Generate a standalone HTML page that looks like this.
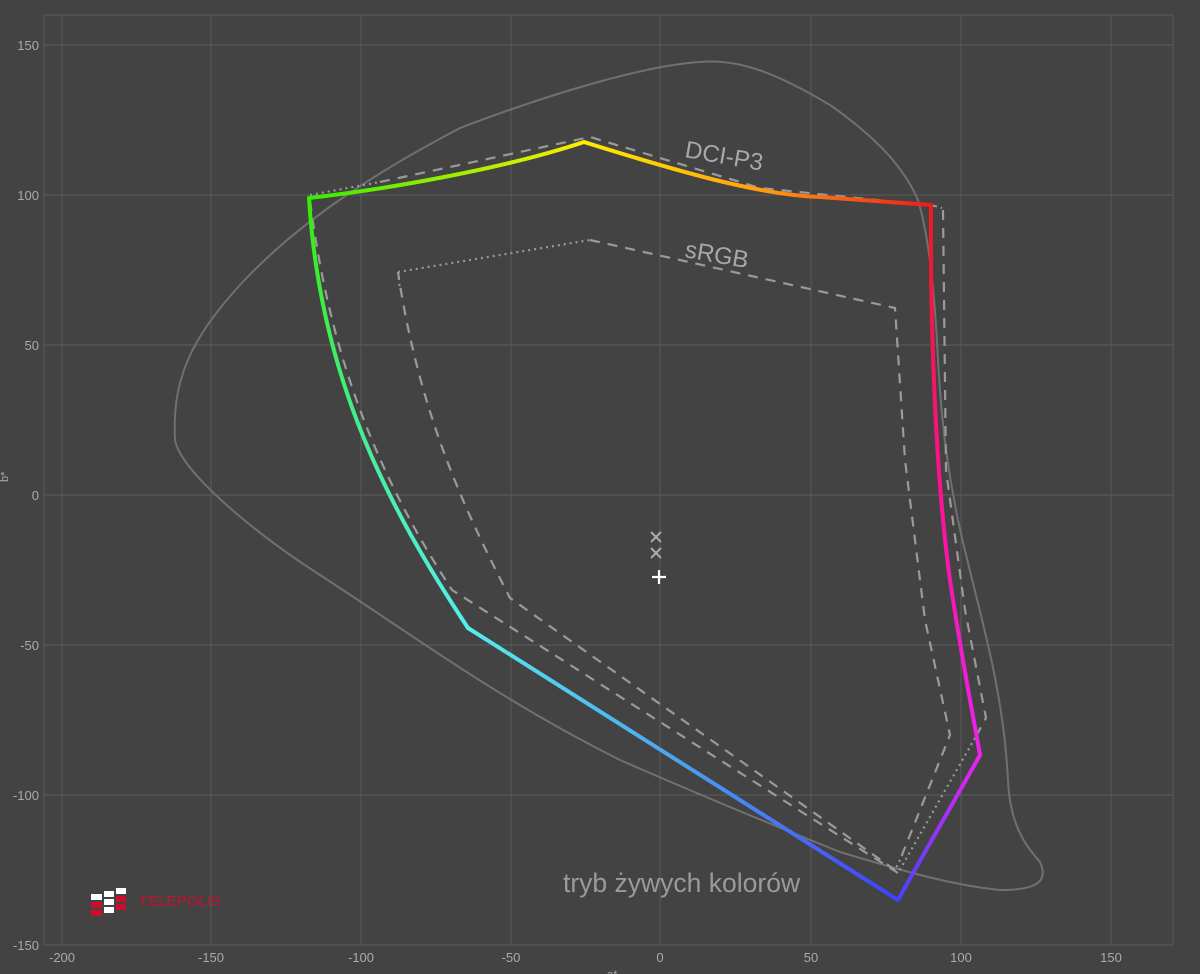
<!DOCTYPE html>
<html><head><meta charset="utf-8"><style>
html,body{margin:0;padding:0;background:#434343;}
svg{display:block;font-family:"Liberation Sans",sans-serif;}
</style></head><body>
<svg width="1200" height="974" viewBox="0 0 1200 974">
<defs>
<linearGradient id="g1" gradientUnits="userSpaceOnUse" x1="309" y1="0" x2="584" y2="0"><stop offset="0" stop-color="#33ee00"/><stop offset="1" stop-color="#ffee00"/></linearGradient>
<linearGradient id="g2" gradientUnits="userSpaceOnUse" x1="584" y1="0" x2="931" y2="0"><stop offset="0" stop-color="#ffee00"/><stop offset="0.5" stop-color="#ffa010"/><stop offset="1" stop-color="#ee1a1a"/></linearGradient>
<linearGradient id="g3" gradientUnits="userSpaceOnUse" x1="0" y1="205" x2="0" y2="755"><stop offset="0" stop-color="#ee1a1a"/><stop offset="0.5" stop-color="#ff1090"/><stop offset="1" stop-color="#ee22ee"/></linearGradient>
<linearGradient id="g4" gradientUnits="userSpaceOnUse" x1="0" y1="755" x2="0" y2="900"><stop offset="0" stop-color="#ee22ee"/><stop offset="1" stop-color="#4444ff"/></linearGradient>
<linearGradient id="g5" gradientUnits="userSpaceOnUse" x1="898" y1="0" x2="468" y2="0"><stop offset="0" stop-color="#4040ff"/><stop offset="0.5" stop-color="#4aa0f0"/><stop offset="1" stop-color="#55eeee"/></linearGradient>
<linearGradient id="g6" gradientUnits="userSpaceOnUse" x1="0" y1="628" x2="0" y2="198"><stop offset="0" stop-color="#55eeee"/><stop offset="0.5" stop-color="#44ee88"/><stop offset="1" stop-color="#33ee00"/></linearGradient>
</defs>
<rect width="1200" height="974" fill="#434343"/>
<g stroke="#575757" stroke-width="1.2" fill="none">
<rect x="44" y="15" width="1129" height="930"/>
<path d="M62 15V945M211 15V945M361 15V945M511 15V945M660 15V945M811 15V945M961 15V945M1111 15V945"/>
<path d="M44 45H1173M44 195H1173M44 345H1173M44 495H1173M44 645H1173M44 795H1173"/>
</g>
<g fill="#aaa" font-size="13">
<g text-anchor="end">
<text x="39" y="50">150</text><text x="39" y="200">100</text><text x="39" y="350">50</text><text x="39" y="500">0</text><text x="39" y="650">-50</text><text x="39" y="800">-100</text><text x="39" y="950">-150</text>
</g>
<g text-anchor="middle">
<text x="62" y="962">-200</text><text x="211" y="962">-150</text><text x="361" y="962">-100</text><text x="511" y="962">-50</text><text x="660" y="962">0</text><text x="811" y="962">50</text><text x="961" y="962">100</text><text x="1111" y="962">150</text>
</g>
<text x="607" y="978" font-size="11">a*</text>
<text x="8" y="482" font-size="11" transform="rotate(-90 8 482)">b*</text>
</g>
<path d="M175,440 C172,380 190,340 240,285 C300,220 380,170 460,128 C560,90 650,65 700,62 C740,58 780,75 830,105 C880,140 905,170 918,200 C930,240 935,300 938,360 C942,430 948,470 958,520 C975,600 1003,680 1008,780 C1010,830 1030,850 1040,862 C1048,880 1040,890 1000,890 C950,885 900,870 840,852 C760,820 700,795 620,760 C500,700 420,640 320,575 C250,530 180,470 175,440 Z" fill="none" stroke="#707070" stroke-width="2"/>
<g fill="none" stroke="#9a9a9a" stroke-width="2.2">
<path d="M398,272 L590,240" stroke-dasharray="2 4"/>
<path d="M590,240 L895,308 L905,460 L925,620 L950,735 L900,860" stroke-dasharray="10 8"/>
<path d="M900,860 L895,870" stroke-dasharray="2 4"/>
<path d="M895,870 L510,598 C470,520 420,420 398,272" stroke-dasharray="10 8"/>
<path d="M398,272 L400,290" stroke-dasharray="2 4"/>
<path d="M310,195 L380,182" stroke-dasharray="2 4"/>
<path d="M380,182 L590,137 L760,188 L935,206" stroke-dasharray="10 8"/>
<path d="M935,206 L942,208" stroke-dasharray="2 4"/>
<path d="M943,210 L946,470 L965,610 L986,718 L975,738" stroke-dasharray="10 8"/>
<path d="M975,738 L898,873" stroke-dasharray="2 4"/>
<path d="M898,873 L452,590 C380,480 330,360 310,200" stroke-dasharray="10 8"/>
</g>
<g fill="none" stroke-width="4" stroke-linecap="round" stroke-linejoin="round">
<path d="M309,198 C380,190 500,170 584,142" stroke="url(#g1)"/>
<path d="M584,142 C680,172 760,195 820,197 L931,205" stroke="url(#g2)"/>
<path d="M931,205 C930,330 936,480 950,580 C962,660 972,710 980,755" stroke="url(#g3)"/>
<path d="M980,755 C955,800 920,860 898,900" stroke="url(#g4)"/>
<path d="M898,900 L468,628" stroke="url(#g5)"/>
<path d="M468,628 C390,510 320,380 309,198" stroke="url(#g6)"/>
</g>
<g stroke="#aaa" stroke-width="2">
<path d="M651,532l10,10M661,532l-10,10M651,548l10,10M661,548l-10,10"/>
</g>
<path d="M652,577h14M659,570v14" stroke="#fff" stroke-width="2.2"/>
<g fill="#a8a8a8" font-size="24">
<text x="684" y="157" transform="rotate(10 684 157)">DCI-P3</text>
<text x="684" y="257" transform="rotate(10 684 257)">sRGB</text>
<text x="563" y="892" font-size="26.5" fill="#9a9a9a">tryb żywych kolorów</text>
</g>
<g>
<rect x="91" y="894" width="11" height="6" fill="#fff"/>
<rect x="91" y="902" width="11" height="6" fill="#c8102e"/>
<rect x="91" y="910" width="11" height="6" fill="#c8102e"/>
<rect x="104" y="891" width="10" height="6" fill="#fff"/>
<rect x="104" y="899" width="10" height="6" fill="#fff"/>
<rect x="104" y="907" width="10" height="6" fill="#fff"/>
<rect x="116" y="888" width="10" height="6" fill="#fff"/>
<rect x="116" y="896" width="10" height="6" fill="#c8102e"/>
<rect x="116" y="904" width="10" height="6" fill="#c8102e"/>
<text x="139" y="906" font-size="15" fill="#c8102e">TELEPOLIS</text>
</g>
</svg>
</body></html>
